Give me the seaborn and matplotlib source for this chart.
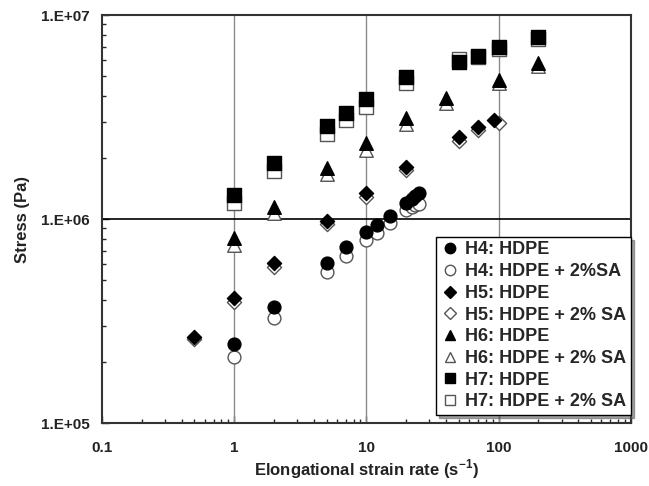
import numpy as np
import pandas as pd
import matplotlib
matplotlib.use("Agg")
import matplotlib.pyplot as plt
import seaborn as sns
from matplotlib.ticker import LogLocator, NullFormatter, FixedLocator, FixedFormatter

# ---- data ----
h4_x = [1, 2, 5, 7, 10, 12, 15, 20, 22, 23.5, 25]
h4_y = [2.44e5, 3.71e5, 6.08e5, 7.29e5, 8.63e5, 9.35e5, 1.03e6, 1.20e6, 1.25e6, 1.30e6, 1.34e6]
h4sa_x = [1, 2, 5, 7, 10, 12, 15, 20, 22, 23.5, 25]
h4sa_y = [2.11e5, 3.27e5, 5.50e5, 6.60e5, 7.90e5, 8.50e5, 9.55e5, 1.11e6, 1.14e6, 1.17e6, 1.19e6]

h5_x = [0.5, 1, 2, 5, 10, 20, 50, 70, 92]
h5_y = [2.64e5, 4.10e5, 6.08e5, 9.78e5, 1.34e6, 1.80e6, 2.52e6, 2.82e6, 3.06e6]
h5sa_x = [0.5, 1, 2, 5, 10, 20, 50, 70, 100]
h5sa_y = [2.58e5, 3.92e5, 5.82e5, 9.40e5, 1.28e6, 1.73e6, 2.42e6, 2.72e6, 2.95e6]

h6_x = [1, 2, 5, 10, 20, 40, 100, 200]
h6_y = [8.07e5, 1.15e6, 1.78e6, 2.36e6, 3.13e6, 3.92e6, 4.80e6, 5.82e6]
h6sa_x = [1, 2, 5, 10, 20, 40, 100, 200]
h6sa_y = [7.50e5, 1.07e6, 1.66e6, 2.18e6, 2.93e6, 3.70e6, 4.65e6, 5.65e6]

h7_x = [1, 2, 5, 7, 10, 20, 50, 70, 100, 200]
h7_y = [1.31e6, 1.88e6, 2.86e6, 3.31e6, 3.87e6, 4.96e6, 5.90e6, 6.30e6, 6.97e6, 7.80e6]
h7sa_x = [1, 2, 5, 7, 10, 20, 50, 70, 100, 200]
h7sa_y = [1.20e6, 1.72e6, 2.61e6, 3.06e6, 3.54e6, 4.64e6, 6.10e6, 6.20e6, 6.80e6, 7.60e6]

labels = ["H4: HDPE", "H4: HDPE + 2%SA", "H5: HDPE", "H5: HDPE + 2% SA",
          "H6: HDPE", "H6: HDPE + 2% SA", "H7: HDPE", "H7: HDPE + 2% SA"]
xtick_vals = [0.1, 1, 10, 100, 1000]
xtick_labels = ["0.1", "1", "10", "100", "1000"]
ytick_vals = [1e5, 1e6, 1e7]
ytick_labels = ["1.E+05", "1.E+06", "1.E+07"]

sns.set_style("white")
plt.rcParams['font.family'] = ['Liberation Sans', 'DejaVu Sans']
plt.rcParams['mathtext.fontset'] = 'custom'
plt.rcParams['mathtext.bf'] = 'Liberation Sans:bold'
plt.rcParams['mathtext.rm'] = 'Liberation Sans:bold'

fig = plt.figure(figsize=(6.49, 4.86), dpi=100)
ax = fig.add_axes([0.157, 0.1296, 0.815, 0.8395])

ax.set_xscale("log")
ax.set_yscale("log")
ax.set_xlim(0.1, 1000)
ax.set_ylim(1e5, 1e7)

# grid lines
for gx in [1, 10, 100]:
    ax.axvline(gx, color="#8a8a8a", lw=1.0, zorder=1)
ax.axhline(1e6, color="black", lw=1.2, zorder=1)

series = [
    (h4sa_x, h4sa_y, "o", True, labels[1], 85),
    (h4_x, h4_y, "o", False, labels[0], 85),
    (h5sa_x, h5sa_y, "D", True, labels[3], 52),
    (h5_x, h5_y, "D", False, labels[2], 52),
    (h6sa_x, h6sa_y, "^", True, labels[5], 95),
    (h6_x, h6_y, "^", False, labels[4], 95),
    (h7sa_x, h7sa_y, "s", True, labels[7], 95),
    (h7_x, h7_y, "s", False, labels[6], 95),
]
handles = {}
for xs, ys, m, op, lab, s in series:
    df = pd.DataFrame({"x": xs, "y": ys})
    fc = "white" if op else "black"
    ec = "#555555" if op else "black"
    sns.scatterplot(data=df, x="x", y="y", marker=m, s=s, color=fc,
                    edgecolor=ec, linewidth=1.0, ax=ax, zorder=3, label=lab,
                    legend=False)
    handles[lab] = plt.Line2D([], [], marker=m, linestyle="none",
                              markerfacecolor=fc, markeredgecolor=ec,
                              markeredgewidth=1.0, markersize=7.5 if m != "D" else 6,
                              color=fc)

ax.xaxis.set_major_locator(FixedLocator(xtick_vals))
ax.xaxis.set_major_formatter(FixedFormatter(xtick_labels))
ax.yaxis.set_major_locator(FixedLocator(ytick_vals))
ax.yaxis.set_major_formatter(FixedFormatter(ytick_labels))
ax.xaxis.set_minor_locator(LogLocator(base=10, subs=np.arange(2, 10)))
ax.yaxis.set_minor_locator(LogLocator(base=10, subs=np.arange(2, 10)))
ax.xaxis.set_minor_formatter(NullFormatter())
ax.yaxis.set_minor_formatter(NullFormatter())
ax.tick_params(axis="both", which="major", direction="in", length=5, width=1,
               labelsize=11, bottom=True, left=True)
ax.tick_params(axis="x", which="major", pad=13)
ax.tick_params(axis="y", which="major", pad=9)
ax.tick_params(axis="both", which="minor", direction="in", length=3, width=1,
               bottom=True, left=True)
for t in ax.get_xticklabels() + ax.get_yticklabels():
    t.set_fontweight("bold")
    t.set_color("#222222")

for sp in ax.spines.values():
    sp.set_color("#333333")
    sp.set_linewidth(1.5)

ax.set_xlabel("Elongational strain rate (s$^{\\mathbf{-1}}$)", fontsize=12,
              fontweight="bold", labelpad=2, color="#222222")
ax.set_ylabel("Stress (Pa)", fontsize=12, fontweight="bold", labelpad=8,
              color="#222222")

leg = ax.legend([handles[l] for l in labels], labels, loc="lower right",
                bbox_to_anchor=(1.0, 0.02), frameon=True, fancybox=False,
                shadow=True, edgecolor="black", framealpha=1,
                prop={"weight": "bold", "size": 13}, handletextpad=0.35,
                labelspacing=0.26, borderpad=0.25, handlelength=1.0,
                borderaxespad=0.0)
leg.get_frame().set_linewidth(1.0)
leg.set_zorder(5)

fig.savefig("out.png", dpi=100)
